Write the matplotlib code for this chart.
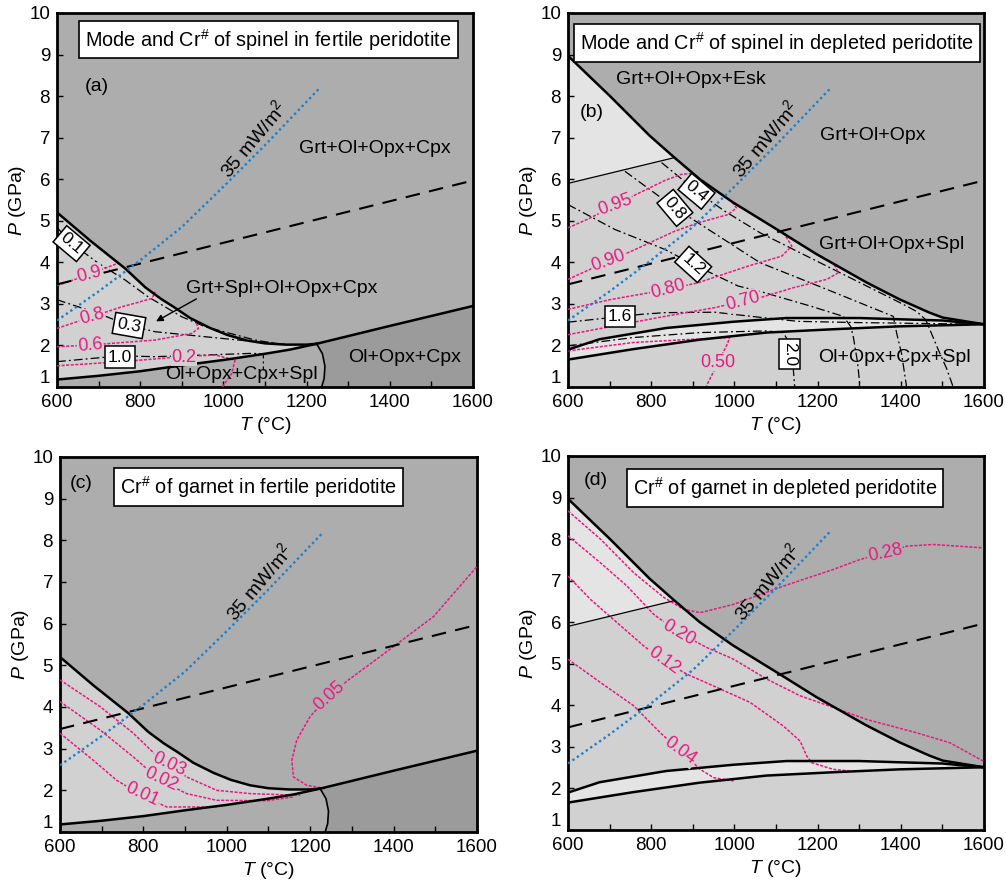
import matplotlib
matplotlib.use('Agg')
import matplotlib.pyplot as plt
import numpy as np

plt.rcParams['font.family'] = ['Liberation Sans', 'DejaVu Sans']
plt.rcParams['mathtext.fontset'] = 'custom'
plt.rcParams['mathtext.rm'] = 'Liberation Sans'
plt.rcParams['mathtext.it'] = 'Liberation Sans:italic'
plt.rcParams['mathtext.bf'] = 'Liberation Sans:bold'

# ---------------- data (T in °C, P in GPa) ----------------
XMIN, XMAX, YMIN, YMAX = 600, 1600, 1, 10

# fertile peridotite phase boundaries (panels a, c)
FU_T = [600, 680, 764, 812, 850, 880, 920, 968, 1010, 1056, 1100, 1150, 1200, 1224]
FU_P = [5.2, 4.52, 3.85, 3.40, 3.12, 2.93, 2.66, 2.42, 2.25, 2.12, 2.05, 2.02, 2.02, 2.04]
FL_T = [600, 700, 800, 900, 1000, 1100, 1160, 1224]
FL_P = [1.18, 1.27, 1.38, 1.52, 1.65, 1.80, 1.90, 2.04]
FH_T = [1224, 1400, 1600]
FH_P = [2.04, 2.47, 2.95]
ARC_T = [1224, 1238, 1244, 1242, 1236]
ARC_P = [2.04, 1.8, 1.5, 1.2, 1.0]

# depleted peridotite phase boundaries (panels b, d)
DU_T = [600, 700, 796, 856, 917, 997, 1101, 1197, 1317, 1397, 1469, 1501, 1600]
DU_P = [8.97, 8.01, 7.05, 6.52, 6.0, 5.44, 4.8, 4.2, 3.52, 3.11, 2.79, 2.67, 2.51]
THIN_T = [600, 856]
THIN_P = [5.9, 6.52]
BU_T = [600, 676, 836, 997, 1125, 1300, 1397, 1500, 1600]
BU_P = [1.9, 2.15, 2.42, 2.57, 2.66, 2.66, 2.63, 2.60, 2.51]
BL_T = [600, 756, 917, 1077, 1237, 1397, 1600]
BL_P = [1.66, 1.91, 2.14, 2.31, 2.39, 2.46, 2.51]

# dashed reference line and 35 mW/m2 geotherm
DASH_T = [600, 1600]
DASH_P = [3.47, 5.97]
GEO_T = [600, 700, 800, 900, 1000, 1100, 1232]
GEO_P = [2.6, 3.3, 4.05, 4.85, 5.82, 6.82, 8.2]

# panel a: spinel mode (dash-dot) and spinel Cr# (magenta)
A_M01_T = [600, 635, 699, 763, 819, 900, 956, 1076, 1130]
A_M01_P = [4.84, 4.46, 3.98, 3.58, 3.17, 2.69, 2.45, 2.13, 2.04]
A_M03_T = [600, 699, 771, 836, 956, 1076, 1150]
A_M03_P = [3.10, 2.77, 2.49, 2.33, 2.21, 2.09, 2.03]
A_M10_T = [600, 751, 836, 956, 1068, 1096, 1096]
A_M10_P = [1.61, 1.75, 1.73, 1.77, 1.81, 1.80, 1.40]
A_C09_T = [600, 675, 747]
A_C09_P = [3.44, 3.70, 3.98]
A_C08_T = [600, 683, 756, 828, 836]
A_C08_P = [2.41, 2.69, 2.93, 3.13, 3.29]
A_C06_T = [600, 681, 756, 836, 924, 940, 932]
A_C06_P = [1.97, 2.01, 2.07, 2.13, 2.29, 2.41, 2.61]
A_C02_T = [600, 756, 900, 980, 1028, 1020, 996]
A_C02_P = [1.51, 1.61, 1.73, 1.77, 1.65, 1.33, 0.98]

# panel b
B_M04_T = [825, 909, 977, 1062, 1214, 1398, 1438, 1460, 1470, 1490, 1510, 1526]
B_M04_P = [6.40, 5.71, 5.23, 4.71, 3.95, 3.03, 2.82, 2.62, 2.38, 1.9, 1.45, 1.0]
B_M08_T = [737, 857, 1062, 1222, 1382, 1386, 1390, 1402, 1414]
B_M08_P = [6.19, 5.31, 3.99, 3.35, 2.70, 2.5, 2.3, 1.8, 1.0]
B_M12_T = [600, 713, 833, 901, 1009, 1062, 1182, 1262, 1280, 1286, 1296, 1302]
B_M12_P = [5.39, 4.79, 4.31, 3.95, 3.43, 3.30, 2.95, 2.70, 2.45, 2.2, 1.6, 1.0]
B_M16_T = [600, 777, 833, 953, 1041, 1153, 1300, 1450, 1600]
B_M16_P = [2.56, 2.75, 2.79, 2.80, 2.70, 2.58, 2.55, 2.53, 2.51]
B_M20_T = [600, 756, 917, 1077, 1117, 1137, 1141, 1145]
B_M20_P = [1.99, 2.19, 2.31, 2.35, 2.31, 1.99, 1.51, 1.0]
B_C095_T = [600, 650, 700, 761, 833, 873, 901, 910]
B_C095_P = [4.83, 5.05, 5.30, 5.62, 5.97, 6.12, 6.14, 6.06]
B_C090_T = [600, 697, 753, 857, 913, 985, 1005, 993, 975]
B_C090_P = [3.59, 4.03, 4.27, 4.75, 4.95, 5.15, 5.31, 5.47, 5.60]
B_C080_T = [600, 700, 841, 913, 1033, 1114, 1138, 1122]
B_C080_P = [2.87, 3.10, 3.35, 3.51, 3.91, 4.15, 4.39, 4.65]
B_C070_T = [600, 753, 833, 953, 1021, 1062, 1142, 1222, 1250, 1238]
B_C070_P = [2.26, 2.55, 2.70, 2.91, 3.07, 3.15, 3.39, 3.59, 3.75, 3.99]
B_C050_T = [600, 756, 900, 989, 981, 957, 933]
B_C050_P = [1.87, 2.07, 2.15, 2.19, 1.99, 1.51, 1.03]

# panel c: garnet Cr#
C_C005_T = [1236, 1192, 1160, 1156, 1168, 1200, 1244, 1292, 1368, 1496, 1600]
C_C005_P = [2.04, 2.12, 2.32, 2.72, 3.21, 3.77, 4.25, 4.65, 5.21, 6.17, 7.37]
C_C003_T = [600, 696, 776, 840, 904, 976, 1056, 1176]
C_C003_P = [4.65, 4.01, 3.37, 2.75, 2.32, 2.0, 1.92, 1.88]
C_C002_T = [600, 696, 776, 840, 904, 976, 1096, 1160]
C_C002_P = [4.13, 3.45, 2.80, 2.24, 1.92, 1.76, 1.75, 1.84]
C_C001_T = [600, 680, 736, 796, 856, 976]
C_C001_P = [3.37, 2.72, 2.24, 1.88, 1.60, 1.60]

# panel d: garnet Cr#
D_C028_T = [600, 678, 758, 830, 878, 918, 998, 1118, 1238, 1302, 1362, 1414, 1478, 1598]
D_C028_P = [8.68, 8.0, 7.19, 6.6, 6.31, 6.23, 6.43, 6.87, 7.27, 7.51, 7.67, 7.83, 7.87, 7.79]
D_C020_T = [600, 678, 742, 806, 866, 934, 998, 1078, 1158, 1238, 1318, 1438, 1518, 1598]
D_C020_P = [8.08, 7.43, 6.87, 6.19, 5.75, 5.39, 5.11, 4.63, 4.23, 3.95, 3.66, 3.34, 3.10, 2.66]
D_C012_T = [600, 654, 718, 782, 830, 886, 958, 1038, 1118, 1158, 1174, 1186, 1238, 1278]
D_C012_P = [7.11, 6.55, 5.99, 5.43, 5.07, 4.75, 4.43, 4.07, 3.50, 3.14, 2.78, 2.62, 2.46, 2.42]
D_C004_T = [600, 678, 758, 822, 870, 918, 950, 998]
D_C004_P = [5.11, 4.55, 3.99, 3.34, 2.90, 2.46, 2.26, 2.18]

# ---------------- styles ----------------
GRT = '#adadad'
SPL = '#d1d1d1'
LIGHT = '#e4e4e4'
DARK = '#9b9b9b'
MAG = '#e8197f'
BLUE = '#1f7fcc'
DASHDOT = (0, (7, 2.5, 1.5, 2.5))
MAGDOT = (0, (2, 1))

fig = plt.figure(figsize=(10.06, 8.83), dpi=100)
axa = fig.add_axes([0.0567, 0.5617, 0.4135, 0.4236])
axb = fig.add_axes([0.5646, 0.5617, 0.4135, 0.4236])
axc = fig.add_axes([0.0596, 0.0578, 0.4145, 0.4247])
axd = fig.add_axes([0.5646, 0.0600, 0.4135, 0.4236])


def setup(ax):
    ax.set_xlim(XMIN, XMAX)
    ax.set_ylim(YMIN, YMAX)
    ax.set_facecolor(GRT)
    ax.set_xticks(np.arange(600, 1601, 200))
    ax.set_xticks(np.arange(600, 1601, 100), minor=True)
    ax.set_yticks(np.arange(1, 11, 1))
    ax.tick_params(which='both', direction='in', length=4, width=1,
                   labelsize=13.5, pad=5)
    for s in ax.spines.values():
        s.set_linewidth(2)
    ax.set_xlabel(r'$T$ (°C)', fontsize=14, labelpad=3)
    ax.set_ylabel(r'$P$ (GPa)', fontsize=14, labelpad=1)
    ax.get_yticklabels()[0].set_va('bottom')


def fertile(ax):
    ax.fill(np.r_[FU_T, FL_T[::-1]], np.r_[FU_P, FL_P[::-1]], color=SPL, lw=0, zorder=1)
    ax.fill(np.r_[ARC_T, XMAX, FH_T[::-1]], np.r_[ARC_P, YMIN, FH_P[::-1]],
            color=DARK, lw=0, zorder=1)
    for t, p in [(FU_T, FU_P), (FL_T, FL_P), (FH_T, FH_P)]:
        ax.plot(t, p, 'k', lw=1.8, zorder=5)
    ax.plot(ARC_T, ARC_P, 'k', lw=1.2, zorder=5)


def depleted(ax):
    ax.fill(np.r_[XMIN, DU_T, XMAX], np.r_[YMIN, DU_P, YMIN], color=SPL, lw=0, zorder=1)
    ax.fill(np.r_[THIN_T, DU_T[3::-1]], np.r_[THIN_P, DU_P[3::-1]], color=LIGHT, lw=0, zorder=1)
    ax.fill(np.r_[BU_T, BL_T[::-1]], np.r_[BU_P, BL_P[::-1]], color=LIGHT, lw=0, zorder=1)
    ax.plot(DU_T, DU_P, 'k', lw=1.8, zorder=5)
    ax.plot(THIN_T, THIN_P, 'k', lw=0.9, zorder=5)
    ax.plot(BU_T, BU_P, 'k', lw=1.8, zorder=5)
    ax.plot(BL_T, BL_P, 'k', lw=1.8, zorder=5)


def common(ax, label_xy):
    ax.plot(DASH_T, DASH_P, color='k', lw=1.5, dashes=(7, 4.5), zorder=4)
    ax.plot(GEO_T, GEO_P, color=BLUE, lw=1.7, ls=(0, (1, 1.3)), zorder=6)
    ax.text(label_xy[0], label_xy[1], '35 mW/m$^2$', rotation=50, fontsize=14,
            ha='center', va='center', rotation_mode='anchor', zorder=7)


def mline(ax, t, p):
    ax.plot(t, p, color=MAG, lw=1.1, ls=MAGDOT, zorder=3)


def dline(ax, t, p):
    ax.plot(t, p, color='k', lw=0.9, ls=DASHDOT, zorder=3)


def mlabel(ax, x, y, s, rot, bg=SPL):
    ax.text(x, y, s, color=MAG, fontsize=13, rotation=rot, ha='center', va='center',
            rotation_mode='anchor', zorder=6,
            bbox=dict(boxstyle='square,pad=0.05', fc=bg, ec='none'))


def boxlabel(ax, x, y, s, rot):
    ax.text(x, y, s, fontsize=12.5, rotation=rot, ha='center', va='center',
            rotation_mode='anchor', zorder=8,
            bbox=dict(boxstyle='square,pad=0.18', fc='white', ec='k', lw=1.1))


def title(ax, x, y, s):
    ax.text(x, y, s, fontsize=14.3, ha='center', va='center', zorder=9,
            bbox=dict(boxstyle='square,pad=0.3', fc='white', ec='k', lw=1.2))


for ax in (axa, axb, axc, axd):
    setup(ax)

# ---------- panel a ----------
fertile(axa)
common(axa, (1072, 6.95))
for t, p in [(A_M01_T, A_M01_P), (A_M03_T, A_M03_P), (A_M10_T, A_M10_P)]:
    dline(axa, t, p)
for t, p in [(A_C09_T, A_C09_P), (A_C08_T, A_C08_P), (A_C06_T, A_C06_P), (A_C02_T, A_C02_P)]:
    mline(axa, t, p)
mlabel(axa, 678, 3.72, '0.9', 15)
mlabel(axa, 684, 2.69, '0.8', 15)
mlabel(axa, 680, 2.00, '0.6', 5)
mlabel(axa, 905, 1.72, '0.2', 0)
boxlabel(axa, 635, 4.45, '0.1', -40)
boxlabel(axa, 773, 2.48, '0.3', -10)
boxlabel(axa, 751, 1.72, '1.0', 0)
axa.text(1364, 6.74, 'Grt+Ol+Opx+Cpx', fontsize=14, ha='center', va='center', zorder=7)
axa.text(1140, 3.37, 'Grt+Spl+Ol+Opx+Cpx', fontsize=14, ha='center', va='center', zorder=7)
axa.text(1436, 1.72, 'Ol+Opx+Cpx', fontsize=14, ha='center', va='center', zorder=7)
axa.text(1044, 1.30, 'Ol+Opx+Cpx+Spl', fontsize=14, ha='center', va='center', zorder=7)
axa.text(696, 8.23, '(a)', fontsize=14, ha='center', va='center', zorder=7)
axa.annotate('', xy=(838, 2.58), xytext=(935, 3.12), zorder=7,
             arrowprops=dict(arrowstyle='-|>', color='k', lw=1, mutation_scale=10,
                             shrinkA=0, shrinkB=0))
title(axa, 1108, 9.36, 'Mode and Cr$^{\\#}$ of spinel in fertile peridotite')

# ---------- panel b ----------
depleted(axb)
common(axb, (1073, 6.97))
for t, p in [(B_M04_T, B_M04_P), (B_M08_T, B_M08_P), (B_M12_T, B_M12_P),
             (B_M16_T, B_M16_P), (B_M20_T, B_M20_P)]:
    dline(axb, t, p)
for t, p in [(B_C095_T, B_C095_P), (B_C090_T, B_C090_P), (B_C080_T, B_C080_P),
             (B_C070_T, B_C070_P), (B_C050_T, B_C050_P)]:
    mline(axb, t, p)
mlabel(axb, 713, 5.39, '0.95', 20)
mlabel(axb, 697, 4.03, '0.90', 20)
mlabel(axb, 841, 3.35, '0.80', 15)
mlabel(axb, 1021, 3.07, '0.70', 15)
mlabel(axb, 960, 1.60, '0.50', 0)
boxlabel(axb, 909, 5.71, '0.4', -40)
boxlabel(axb, 857, 5.31, '0.8', -50)
boxlabel(axb, 901, 3.95, '1.2', -42)
boxlabel(axb, 725, 2.70, '1.6', 0)
boxlabel(axb, 1133, 1.79, '2.0', -90)
axb.text(896, 8.41, 'Grt+Ol+Opx+Esk', fontsize=14, ha='center', va='center', zorder=7)
axb.text(1333, 7.05, 'Grt+Ol+Opx', fontsize=14, ha='center', va='center', zorder=7)
axb.text(1377, 4.44, 'Grt+Ol+Opx+Spl', fontsize=14, ha='center', va='center', zorder=7)
axb.text(1385, 1.71, 'Ol+Opx+Cpx+Spl', fontsize=14, ha='center', va='center', zorder=7)
axb.text(656, 7.61, '(b)', fontsize=14, ha='center', va='center', zorder=7)
title(axb, 1102, 9.28, 'Mode and Cr$^{\\#}$ of spinel in depleted peridotite')

# ---------- panel c ----------
fertile(axc)
common(axc, (1078, 7.0))
for t, p in [(C_C005_T, C_C005_P), (C_C003_T, C_C003_P), (C_C002_T, C_C002_P), (C_C001_T, C_C001_P)]:
    mline(axc, t, p)
mlabel(axc, 1246, 4.27, '0.05', 42, bg=GRT)
mlabel(axc, 862, 2.62, '0.03', -25)
mlabel(axc, 842, 2.26, '0.02', -25)
mlabel(axc, 798, 1.90, '0.01', -25)
axc.text(652, 9.37, '(c)', fontsize=14, ha='center', va='center', zorder=7)
title(axc, 1077, 9.27, 'Cr$^{\\#}$ of garnet in fertile peridotite')

# ---------- panel d ----------
depleted(axd)
common(axd, (1078, 6.95))
for t, p in [(D_C028_T, D_C028_P), (D_C020_T, D_C020_P), (D_C012_T, D_C012_P), (D_C004_T, D_C004_P)]:
    mline(axd, t, p)
mlabel(axd, 1362, 7.67, '0.28', 12, bg=GRT)
mlabel(axd, 866, 5.75, '0.20', -30)
mlabel(axd, 830, 5.07, '0.12', -36)
mlabel(axd, 870, 2.90, '0.04', -36)
axd.text(666, 9.40, '(d)', fontsize=14, ha='center', va='center', zorder=7)
title(axd, 1122, 9.22, 'Cr$^{\\#}$ of garnet in depleted peridotite')

fig.savefig('out.png', dpi=100)
